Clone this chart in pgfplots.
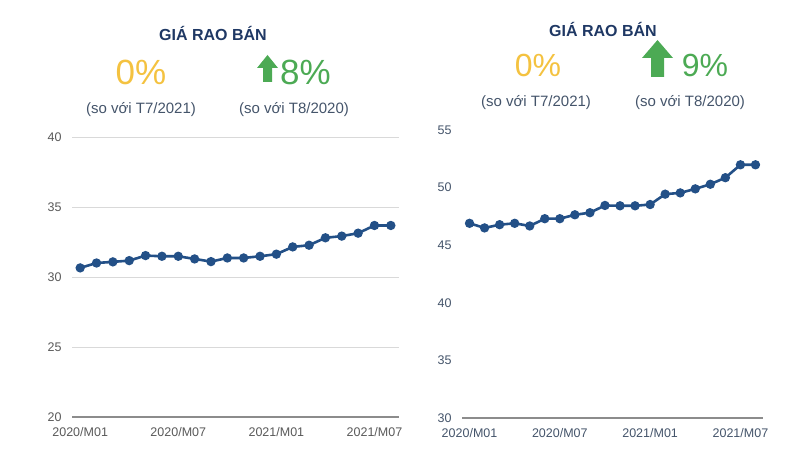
\documentclass[border=0pt]{standalone}
\usepackage{pgfplots}
\pgfplotsset{compat=1.18}
\usepackage{fontspec}
\setmainfont{Liberation Sans}
\definecolor{navy}{RGB}{31,56,100}
\definecolor{gold}{RGB}{244,194,64}
\definecolor{upgreen}{RGB}{76,170,84}
\definecolor{subgray}{RGB}{68,84,106}
\definecolor{linecol}{RGB}{35,80,135}
\definecolor{lefttick}{RGB}{89,89,89}
\pgfplotstableread{
x y
0 30.65
1 31.00
2 31.08
3 31.17
4 31.53
5 31.48
6 31.48
7 31.29
8 31.10
9 31.36
10 31.36
11 31.48
12 31.63
13 32.15
14 32.27
15 32.80
16 32.92
17 33.13
18 33.68
19 33.68
}\leftdata
\pgfplotstableread{
x y
0 46.90
1 46.50
2 46.78
3 46.90
4 46.67
5 47.30
6 47.30
7 47.64
8 47.82
9 48.45
10 48.42
11 48.42
12 48.53
13 49.43
14 49.54
15 49.89
16 50.29
17 50.86
18 51.98
19 51.98
}\rightdata
\pgfplotsset{mystyle/.style={
  scale only axis, anchor=south west,
  xmin=-0.5, xmax=19.5,
  xtick={0,6,12,18},
  xticklabels={2020/M01,2020/M07,2021/M01,2021/M07},
  axis x line*=bottom, axis y line*=left,
  y axis line style={draw=none},
  x axis line style={draw=black!45, line width=1.2pt, -},
  major tick length=0pt,
  tick label style={font=\fontsize{12.5}{14}\selectfont},
  /pgf/number format/assume math mode=true,
  xticklabel style={yshift=-7pt},
  yticklabel style={xshift=-7pt},
  clip=false,
}}
\begin{document}
\begin{tikzpicture}[x=1pt,y=1pt]
\useasboundingbox (0,0) rectangle (800,449);
% ---------- left panel ----------
\begin{axis}[mystyle, at={(72pt,32pt)}, width=327pt, height=280pt,
  ymin=20, ymax=40, ytick={20,25,30,35,40},
  ymajorgrids, grid style={black!15, line width=0.8pt},
  tick label style={text=lefttick}]
\addplot[linecol, line width=2.6pt, mark=*, mark size=3.3pt, mark options={fill=linecol, draw=linecol}] table[x=x,y=y]{\leftdata};
\end{axis}
% ---------- right panel ----------
\begin{axis}[mystyle, at={(462pt,31pt)}, width=301pt, height=288pt,
  ymin=30, ymax=55, ytick={30,35,40,45,50,55},
  tick label style={text=subgray}]
\addplot[linecol, line width=2.6pt, mark=*, mark size=3.3pt, mark options={fill=linecol, draw=linecol}] table[x=x,y=y]{\rightdata};
\end{axis}
% ---------- headers left ----------
\node[font=\bfseries\fontsize{16}{19}\selectfont, text=navy] at (213,416) {GIÁ RAO BÁN};
\node[font=\fontsize{35}{40}\selectfont, text=gold] at (141,377) {0\%};
\fill[upgreen] (263,449-82) -- (263,449-68) -- (257,449-68) -- (267.5,449-55) -- (278,449-68) -- (272,449-68) -- (272,449-82) -- cycle;
\node[font=\fontsize{35}{40}\selectfont, text=upgreen, anchor=west, inner sep=0pt] at (280,377) {8\%};
\node[font=\fontsize{15}{18}\selectfont, text=subgray] at (141,339) {(so với T7/2021)};
\node[font=\fontsize{15}{18}\selectfont, text=subgray] at (294,339) {(so với T8/2020)};
% ---------- headers right ----------
\node[font=\bfseries\fontsize{16}{19}\selectfont, text=navy] at (603,420) {GIÁ RAO BÁN};
\node[font=\fontsize{32}{37}\selectfont, text=gold] at (538,384) {0\%};
\fill[upgreen] (651,449-77) -- (651,449-58) -- (642,449-58) -- (657.5,449-40) -- (673,449-58) -- (664,449-58) -- (664,449-77) -- cycle;
\node[font=\fontsize{32}{37}\selectfont, text=upgreen] at (705,384) {9\%};
\node[font=\fontsize{15}{18}\selectfont, text=subgray] at (536,346) {(so với T7/2021)};
\node[font=\fontsize{15}{18}\selectfont, text=subgray] at (690,346) {(so với T8/2020)};
\end{tikzpicture}
\end{document}
